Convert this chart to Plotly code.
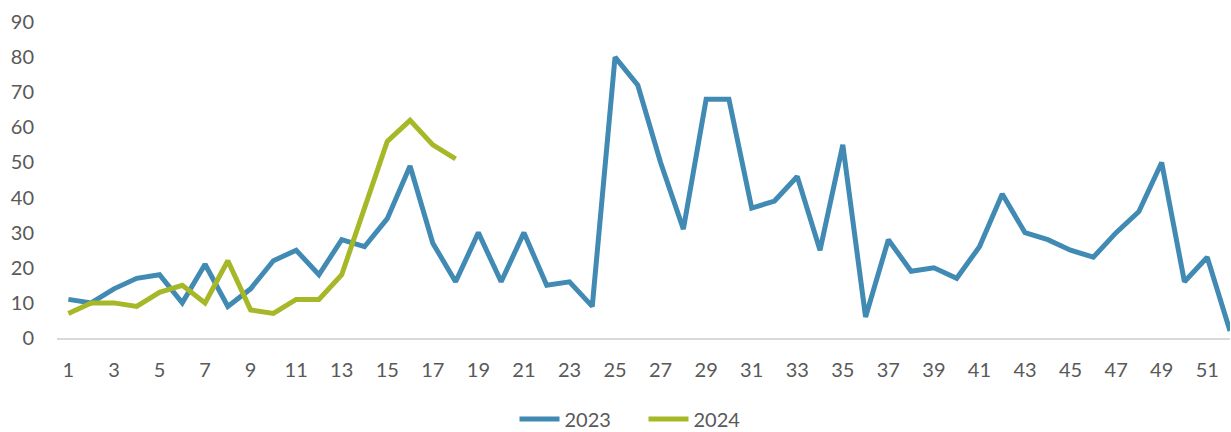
import plotly.graph_objects as go

weeks = list(range(1, 53))
values_2023 = [11, 10, 14, 17, 18, 10, 21, 9, 14, 22, 25, 18, 28, 26, 34, 49, 27, 16, 30, 16,
               30, 15, 16, 9, 80, 72, 50, 31, 68, 68, 37, 39, 46, 25, 55, 6, 28, 19, 20, 17,
               26, 41, 30, 28, 25, 23, 30, 36, 50, 16, 23, 2]
weeks_2024 = list(range(1, 19))
values_2024 = [7, 10, 10, 9, 13, 15, 10, 22, 8, 7, 11, 11, 18, 37, 56, 62, 55, 51]
x_tick_labels = [str(w) for w in weeks if w % 2 == 1]
y_ticks = [0, 10, 20, 30, 40, 50, 60, 70, 80, 90]

fig = go.Figure()
fig.add_trace(go.Scatter(x=weeks, y=values_2023, mode="lines", name="2023",
                         line=dict(color="#418AB3", width=5)))
fig.add_trace(go.Scatter(x=weeks_2024, y=values_2024, mode="lines", name="2024",
                         line=dict(color="#A6B727", width=5)))

font_fam = "Lato, 'Open Sans', sans-serif"
fig.update_layout(
    width=1231, height=432,
    margin=dict(l=57, r=1, t=22, b=94),
    paper_bgcolor="white", plot_bgcolor="white",
    font=dict(family=font_fam, size=20, color="#595959"),
    showlegend=True,
    legend=dict(orientation="h", x=0.5, xanchor="center", y=0.03, yref="container",
                yanchor="middle", font=dict(size=20, color="#595959"),
                itemwidth=40, tracegroupgap=0, entrywidth=74, entrywidthmode="pixels"),
    xaxis=dict(range=[0.5, 52], tickmode="array",
               tickvals=[int(t) for t in x_tick_labels], ticktext=x_tick_labels,
               showgrid=False, zeroline=False, showline=True, linecolor="#D9D9D9",
               linewidth=1.5, ticks="", ticklabelstandoff=13, automargin=False),
    yaxis=dict(range=[0, 90], tickmode="array", tickvals=y_ticks,
               showgrid=False, zeroline=False, showline=False, ticks="",
               ticklabelstandoff=22, automargin=False),
)

fig.write_html("out.html", config={"displayModeBar": False},
               post_script="document.body.style.margin='0';document.body.style.overflow='hidden';")
